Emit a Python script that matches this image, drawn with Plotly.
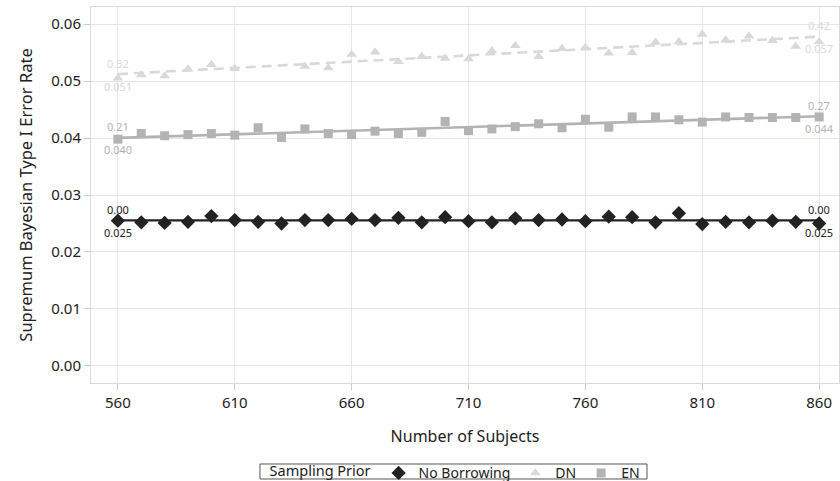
import numpy as np
import plotly.graph_objects as go

subjects = [560, 570, 580, 590, 600, 610, 620, 630, 640, 650, 660, 670, 680, 690, 700,
            710, 720, 730, 740, 750, 760, 770, 780, 790, 800, 810, 820, 830, 840, 850, 860]

no_borrowing = [0.0255, 0.0252, 0.0251, 0.0253, 0.0263, 0.0256, 0.0253, 0.0250, 0.0256, 0.0256,
                0.0258, 0.0256, 0.0260, 0.0252, 0.0261, 0.0254, 0.0252, 0.0259, 0.0256, 0.0257,
                0.0254, 0.0262, 0.0261, 0.0252, 0.0268, 0.0249, 0.0253, 0.0252, 0.0255, 0.0253,
                0.0250]

dn = [0.0505, 0.0511, 0.0509, 0.0521, 0.0529, 0.0522, None, None, 0.0526, 0.0523,
      0.0547, 0.0551, 0.0534, 0.0543, 0.0540, 0.0539, 0.0553, 0.0562, 0.0543, 0.0557,
      0.0559, 0.0549, 0.0550, 0.0568, 0.0569, 0.0582, 0.0572, 0.0579, 0.0571, 0.0561,
      0.0569]

en = [0.0398, 0.0408, 0.0404, 0.0406, 0.0408, 0.0405, 0.0418, 0.0401, 0.0416, 0.0408,
      0.0406, 0.0412, 0.0408, 0.0410, 0.0429, 0.0413, 0.0416, 0.0420, 0.0425, 0.0418,
      0.0433, 0.0419, 0.0437, 0.0437, 0.0432, 0.0428, 0.0437, 0.0436, 0.0436, 0.0436,
      0.0437]

series_names = ["No Borrowing", "DN", "EN"]
left_top = ["0.00", "0.32", "0.21"]
left_bottom = ["0.025", "0.051", "0.040"]
right_top = ["0.00", "0.42", "0.27"]
right_bottom = ["0.025", "0.057", "0.044"]

x_ticks = [560, 610, 660, 710, 760, 810, 860]
y_ticks = [0.00, 0.01, 0.02, 0.03, 0.04, 0.05, 0.06]

colors = ["#222222", "#d9d9d9", "#b3b3b3"]
symbols = ["diamond", "triangle-up", "square"]
msizes = [11, 9.5, 9]
dashes = ["solid", "10px,6px", "solid"]
lwidths = [2.2, 2.6, 2.6]

fig = go.Figure()
all_series = [no_borrowing, dn, en]
x_arr = np.array(subjects, dtype=float)

fits = []
for vals in all_series:
    v = np.array([np.nan if a is None else a for a in vals], dtype=float)
    m = ~np.isnan(v)
    coef = np.polyfit(x_arr[m], v[m], 1)
    fits.append(np.polyval(coef, x_arr))

for i, vals in enumerate(all_series):
    fig.add_trace(go.Scatter(x=subjects, y=fits[i], mode="lines",
                             line=dict(color=colors[i], width=lwidths[i], dash=dashes[i]),
                             showlegend=False, hoverinfo="skip"))
for i, vals in enumerate(all_series):
    fig.add_trace(go.Scatter(x=subjects, y=vals, mode="markers", name=series_names[i],
                             marker=dict(symbol=symbols[i], size=msizes[i], color=colors[i],
                                         line=dict(width=0))))

for i in range(3):
    c = colors[i]
    for xx, yy, txt, sh in [(subjects[0], fits[i][0], left_top[i], 11),
                            (subjects[0], fits[i][0], left_bottom[i], -12),
                            (subjects[-1], fits[i][-1], right_top[i], 11),
                            (subjects[-1], fits[i][-1], right_bottom[i], -12)]:
        fig.add_annotation(x=xx, y=yy, text=txt, showarrow=False, yshift=sh,
                           font=dict(size=11, color=c))

# tight frame around the legend (plotly's own legend box is taller than the original)
fig.add_shape(type="rect", xref="paper", yref="paper",
              x0=0.2259, x1=0.7433, y0=-0.2553, y1=-0.2154,
              line=dict(color="#555555", width=1), fillcolor="rgba(0,0,0,0)", layer="above")

fig.update_layout(
    width=840, height=481,
    margin=dict(l=91, r=1, t=7, b=98),
    paper_bgcolor="white", plot_bgcolor="white",
    font=dict(family="Noto Sans", size=15, color="#222222"),
    legend=dict(orientation="h", xref="container", yref="container",
                x=0.543, xanchor="center", y=0.0160, yanchor="middle",
                title=dict(text="Sampling Prior", font=dict(size=14.5)),
                borderwidth=0, bgcolor="rgba(0,0,0,0)", font=dict(size=14),
                itemwidth=30, tracegroupgap=0),
)
fig.update_xaxes(range=[548.5, 868.5], tickvals=x_ticks, ticktext=[str(t) for t in x_ticks],
                 showgrid=True, gridcolor="#e6e6e6", gridwidth=1,
                 showline=True, linecolor="#d9d9d9", linewidth=1, mirror=True,
                 ticks="outside", ticklen=6, tickcolor="#cccccc", automargin=False,
                 tickfont=dict(size=15, color="#222222"), zeroline=False,
                 title=dict(text="Number of Subjects", font=dict(size=16), standoff=19))
fig.update_yaxes(range=[-0.003, 0.063], tickvals=y_ticks, ticktext=["%.2f" % t for t in y_ticks],
                 showgrid=True, gridcolor="#e6e6e6", gridwidth=1,
                 showline=True, linecolor="#d9d9d9", linewidth=1, mirror=True,
                 ticks="outside", ticklen=6, tickcolor="#cccccc", automargin=False,
                 tickfont=dict(size=15, color="#222222"), zeroline=False,
                 title=dict(text="Supremum Bayesian Type I Error Rate", font=dict(size=16.5), standoff=14))

# remove the browser's default 8px page margin so the figure fills the window
fig.write_html("out.html", config={"displayModeBar": False},
               post_script="document.body.style.margin='0px';")
